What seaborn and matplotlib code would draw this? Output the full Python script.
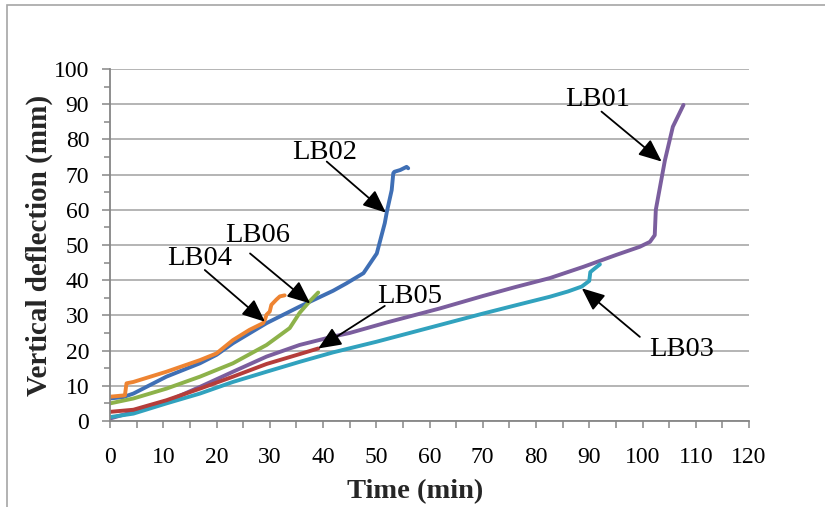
import matplotlib
matplotlib.use("Agg")
import matplotlib.pyplot as plt
import seaborn as sns
import pandas as pd
from matplotlib.patches import Rectangle
from matplotlib.ticker import MultipleLocator

# Deflection histories of the six beams: time (min) and vertical deflection (mm)
lb01_t = [0, 4.4, 10.6, 16.9, 23.1, 29.4, 35.6, 41.9, 45, 52, 62, 70, 76, 82.6, 88.9, 95.1, 99.5, 101.4,
          102.3, 102.5, 103.3, 104.2, 105.7, 107.7]
lb01_d = [0.7, 2.6, 5.5, 9.7, 14.0, 18.3, 21.6, 24.0, 25.0, 28.0, 32.0, 35.5, 38.0, 40.6, 43.8, 47.2, 49.5, 50.9,
          52.8, 60.0, 66.6, 74.0, 83.6, 89.8]

lb02_t = [0, 2.5, 4.4, 10.6, 16.9, 20, 23.1, 29.4, 35.6, 39.1, 41.9, 44.4, 47.6, 50.1, 51.6, 52, 52.9, 53.2,
          53.4, 54.5, 55.7, 56]
lb02_d = [6.4, 6.8, 7.8, 12.6, 16.4, 18.8, 22.1, 27.8, 32.5, 35.0, 37.0, 39.1, 42.0, 47.6, 56.2, 59.5, 65.6, 70.4,
          70.8, 71.3, 72.2, 71.8]

lb03_t = [0, 4.4, 10.6, 16.9, 23.1, 29.4, 35.6, 41.9, 50, 60, 70, 76, 82.6, 86, 88.6, 90, 90.2, 91, 92]
lb03_d = [1.1, 2.1, 5.0, 7.8, 11.1, 14.0, 16.8, 19.5, 22.5, 26.5, 30.5, 32.8, 35.3, 36.8, 38.2, 39.8, 42.3, 43.3, 44.5]

lb04_t = [0, 2.8, 3.1, 4.4, 10.6, 16.9, 20, 23.1, 26.2, 28.75, 29.1, 29.4, 30.0, 30.3, 31.25, 31.9, 32.8]
lb04_d = [6.9, 7.3, 10.7, 11.1, 14.0, 17.3, 19.2, 23.0, 25.9, 27.8, 28.8, 30.2, 31.1, 33.0, 34.5, 35.4, 35.7]

lb05_t = [0, 4.4, 10.6, 16.9, 23.1, 29.4, 35.6, 39.1]
lb05_d = [2.6, 3.2, 5.9, 9.2, 12.6, 16.2, 19.0, 20.6]

lb06_t = [0, 4.4, 10.6, 16.9, 23.1, 29.4, 33.75, 35.6, 37.5, 39.1]
lb06_d = [5.0, 6.4, 9.2, 12.6, 16.4, 21.6, 26.4, 30.7, 34.0, 36.5]

beams = ["LB01", "LB02", "LB03", "LB04", "LB05", "LB06"]
times = [lb01_t, lb02_t, lb03_t, lb04_t, lb05_t, lb06_t]
defls = [lb01_d, lb02_d, lb03_d, lb04_d, lb05_d, lb06_d]
colors = ["#7B5E9E", "#3F6FB5", "#31A2BE", "#EE8432", "#B53D3A", "#8DB24A"]

# label text position, arrow tail, arrow head (data units)
labels = {
    "LB01": ((91.6, 91.2), (92.3, 87.9), (103.6, 73.7)),
    "LB02": ((40.4, 76.4), (40.7, 73.7), (51.8, 59.2)),
    "LB06": ((27.8, 52.8), (26.3, 47.6), (37.6, 33.4)),
    "LB04": ((16.9, 46.3), (17.8, 42.9), (29.1, 28.2)),
    "LB05": ((56.3, 35.5), (51.6, 32.7), (39.1, 20.6)),
    "LB03": ((107.4, 20.2), (99.5, 23.9), (88.6, 37.7)),
}

frames = [pd.DataFrame({"time": t, "defl": d, "beam": b}) for b, t, d in zip(beams, times, defls)]
df = pd.concat(frames, ignore_index=True)

sns.set_theme(style="white")
plt.rcParams["font.family"] = ["Liberation Serif", "DejaVu Serif"]

fig = plt.figure(figsize=(8.25, 5.07), dpi=100)
ax = fig.add_axes([110 / 825, 1 - 421 / 507, (749 - 110) / 825, (421 - 69) / 507])

# outer chart border
fig.patches.append(Rectangle((7 / 825, -0.2), 1.2, 1.2 - 5 / 507, transform=fig.transFigure,
                             fill=False, edgecolor="#A6A6A6", linewidth=1.2, zorder=0))

sns.lineplot(data=df, x="time", y="defl", hue="beam", palette=dict(zip(beams, colors)),
             sort=False, estimator=None, legend=False, linewidth=2.8, ax=ax)

ax.set_xlim(0, 120)
ax.set_ylim(0, 100)
ax.xaxis.set_major_locator(MultipleLocator(10))
ax.xaxis.set_minor_locator(MultipleLocator(5))
ax.yaxis.set_major_locator(MultipleLocator(10))
ax.yaxis.set_minor_locator(MultipleLocator(5))
ax.grid(True, which="major", axis="y", color="#A0A0A0", linewidth=1.1)
ax.grid(False, axis="x")
for side in ["top", "right"]:
    ax.spines[side].set_visible(False)
for side in ["left", "bottom"]:
    ax.spines[side].set_color("#868686")
    ax.spines[side].set_linewidth(1.3)

ax.tick_params(axis="both", which="both", direction="out", color="#868686", width=1.1,
               labelsize=17, labelcolor="black")
ax.tick_params(axis="y", which="major", length=6, pad=9)
ax.tick_params(axis="y", which="minor", length=4)
ax.tick_params(axis="x", which="major", length=5, pad=14)
ax.tick_params(axis="x", which="minor", length=5)
ax.tick_params(left=True, bottom=True, which="both")

ax.set_xlabel("Time (min)", fontsize=20.5, fontweight="bold", labelpad=8)
ax.xaxis.set_label_coords(0.477, -0.165)
ax.set_ylabel("Vertical deflection (mm)", fontsize=21, fontweight="bold", labelpad=0.5)

for name, (txt, tail, head) in labels.items():
    ax.text(txt[0], txt[1], name, ha="center", va="center", fontsize=20.5, color="black")
    ax.annotate("", xy=head, xytext=tail,
                arrowprops=dict(arrowstyle="-|>,head_length=0.7,head_width=0.3",
                                mutation_scale=20, color="black", lw=1.3,
                                shrinkA=0, shrinkB=0))

fig.savefig("out.png", dpi=100)
